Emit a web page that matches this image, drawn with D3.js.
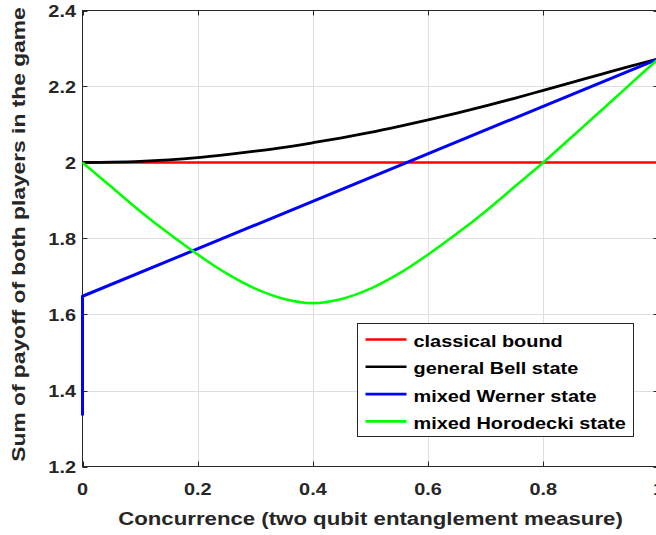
<!DOCTYPE html>
<html>
<head>
<meta charset="utf-8">
<script src="https://cdn.jsdelivr.net/npm/d3@7"></script>
<style>
  body { margin: 0; background: #fff; }
  svg { display: block; }
  text { font-family: "Liberation Sans", Arial, sans-serif; font-weight: bold; fill: #262626; }
</style>
</head>
<body>
<div id="chart"></div>
<script>
// concurrence grid the curves were read on
var concurrence = [0, 0.05, 0.1, 0.15, 0.2, 0.25, 0.3, 0.35, 0.4, 0.45, 0.5,
  0.55, 0.6, 0.65, 0.7, 0.75, 0.8, 0.85, 0.9, 0.95, 1]

var bellState = [2.000, 2.001, 2.003, 2.007, 2.013, 2.021, 2.030, 2.040, 2.052, 2.065, 2.079,
  2.095, 2.112, 2.130, 2.149, 2.169, 2.190, 2.211, 2.232, 2.253, 2.273]

var horodeckiState = [2.000, 1.936, 1.872, 1.813, 1.758, 1.708, 1.668, 1.641, 1.630, 1.641, 1.668,
  1.708, 1.758, 1.813, 1.872, 1.936, 2.000, 2.068, 2.136, 2.205, 2.273]

var wernerC = [0, 0, 1]
var wernerState = [1.334, 1.648, 2.273]

var classicalC = [0, 1]
var classicalBound = [2, 2]

var xTicks = [0, 0.2, 0.4, 0.6, 0.8, 1]
var yTicks = [1.2, 1.4, 1.6, 1.8, 2, 2.2, 2.4]

var seriesNames = ['classical bound', 'general Bell state', 'mixed Werner state', 'mixed Horodecki state']
var seriesColors = ['#ff0000', '#000000', '#0000ff', '#00ff00']

var width = 656, height = 535
// plot box (window.top is read-only, so no bare `top`)
var m = {l: 82.5, r: 658.5, t: 10.5, b: 466.5}
var stretch = 1.17 // the font in the picture is wider than Arial

var x = d3.scaleLinear().domain([0, 1]).range([m.l, m.r])
var y = d3.scaleLinear().domain([1.2, 2.4]).range([m.b, m.t])

var svg = d3.select('#chart').append('svg')
  .attr('width', width)
  .attr('height', height)

// grid
svg.append('g').selectAll('line').data(xTicks.slice(1)).join('line')
  .attr('x1', d => Math.round(x(d)) + .5).attr('x2', d => Math.round(x(d)) + .5)
  .attr('y1', m.t).attr('y2', m.b)
  .attr('stroke', '#dedede')

svg.append('g').selectAll('line').data(yTicks.slice(1, -1)).join('line')
  .attr('x1', m.l).attr('x2', m.r)
  .attr('y1', d => Math.round(y(d)) + .5).attr('y2', d => Math.round(y(d)) + .5)
  .attr('stroke', '#dedede')

// box + inward ticks (under the curves, the blue one sits on the y axis)
var axisColor = '#262626'
svg.append('rect')
  .attr('x', m.l).attr('y', m.t)
  .attr('width', m.r - m.l).attr('height', m.b - m.t)
  .attr('fill', 'none').attr('stroke', axisColor)

var tickLen = 5
var ticks = svg.append('g').attr('stroke', axisColor)
xTicks.forEach(d => {
  var px = Math.round(x(d)) + .5
  ticks.append('line').attr('x1', px).attr('x2', px).attr('y1', m.b).attr('y2', m.b - tickLen)
  ticks.append('line').attr('x1', px).attr('x2', px).attr('y1', m.t).attr('y2', m.t + tickLen)
})
yTicks.forEach(d => {
  var py = Math.round(y(d)) + .5
  ticks.append('line').attr('x1', m.l).attr('x2', m.l + tickLen).attr('y1', py).attr('y2', py)
  ticks.append('line').attr('x1', m.r).attr('x2', m.r - tickLen).attr('y1', py).attr('y2', py)
})

function pts(xs, ys){ return xs.map((d, i) => [d, ys[i]]) }

var line = d3.line().x(d => x(d[0])).y(d => y(d[1]))
var smooth = d3.line().x(d => x(d[0])).y(d => y(d[1])).curve(d3.curveCatmullRom)

var series = [
  {path: line(pts(classicalC, classicalBound)), w: 2.6},
  {path: smooth(pts(concurrence, bellState)), w: 2.8},
  {path: line(pts(wernerC, wernerState)), w: 3},
  {path: smooth(pts(concurrence, horodeckiState)), w: 2.6},
]

svg.append('g').selectAll('path').data(series).join('path')
  .attr('d', d => d.path)
  .attr('fill', 'none')
  .attr('stroke', (d, i) => seriesColors[i])
  .attr('stroke-width', d => d.w)
  .attr('stroke-linejoin', 'round')

// tick labels
svg.append('g').selectAll('text').data(xTicks).join('text')
  .attr('transform', d => `translate(${x(d)},495) scale(${stretch},1)`)
  .attr('text-anchor', 'middle')
  .style('font-size', '17px')
  .text(d => d3.format('')(d))

svg.append('g').selectAll('text').data(yTicks).join('text')
  .attr('transform', d => `translate(76,${y(d) + 6}) scale(${stretch},1)`)
  .attr('text-anchor', 'end')
  .style('font-size', '17px')
  .text(d => d3.format('')(d))

// axis titles
svg.append('text')
  .attr('transform', `translate(${(m.l + m.r) / 2},525) scale(${stretch},1)`)
  .attr('text-anchor', 'middle')
  .style('font-size', '19px')
  .text('Concurrence (two qubit entanglement measure)')

svg.append('text')
  .attr('transform', `translate(25,${(m.t + m.b) / 2 - 4}) rotate(-90) scale(${stretch + 0.03},1)`)
  .attr('text-anchor', 'middle')
  .style('font-size', '19px')
  .text('Sum of payoff of both players in the game')

// legend
var legend = svg.append('g').attr('transform', 'translate(357.5,323.5)')
legend.append('rect')
  .attr('width', 276).attr('height', 113)
  .attr('fill', '#fff').attr('stroke', axisColor)

var item = legend.selectAll('g').data(seriesNames).join('g')
  .attr('transform', (d, i) => `translate(0,${16 + i * 27.3})`)

item.append('line')
  .attr('x1', 8).attr('x2', 49)
  .attr('stroke', (d, i) => seriesColors[i])
  .attr('stroke-width', 2.6)

item.append('text')
  .attr('transform', `translate(56,7.5) scale(${stretch},1)`)
  .style('font-size', '17px')
  .style('fill', '#000')
  .text(d => d)
</script>
</body>
</html>
